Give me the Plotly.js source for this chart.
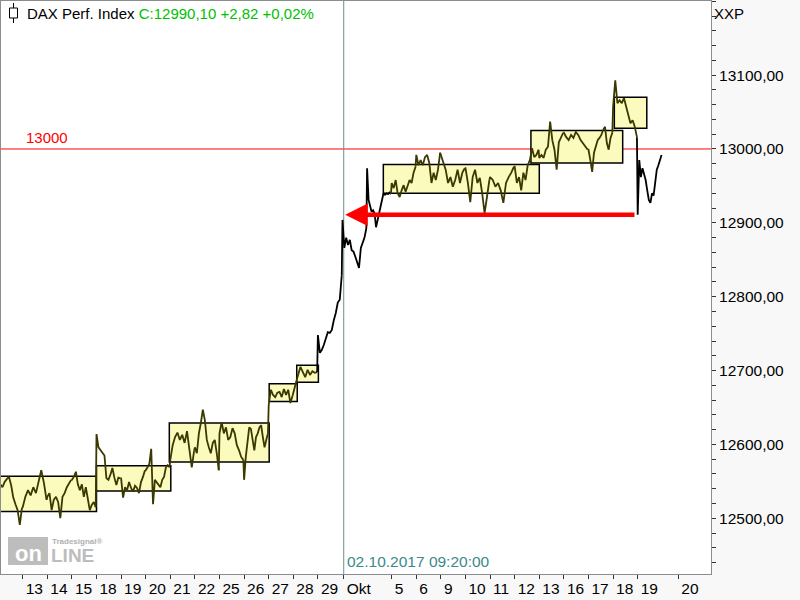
<!DOCTYPE html>
<html>
<head>
<meta charset="utf-8">
<script src="https://cdn.plot.ly/plotly-3.0.1.min.js"></script>
<style>html,body{margin:0;padding:0;background:#f8f8f8;}#chart{width:800px;height:600px;}</style>
</head>
<body>
<div id="chart"></div>
<script>
// ---- intraday price readings per trading day (DAX) ----
const sep12 = [12541, 12546, 12542, 12549, 12553, 12556, 12545, 12528, 12519, 12511, 12491, 12514];
const sep13 = [12515, 12529, 12538, 12531, 12542, 12534, 12552, 12565, 12548, 12525];
const sep14 = [12529, 12534, 12511, 12525, 12529, 12522, 12500, 12529, 12534, 12542, 12548, 12552];
const sep15 = [12552, 12556, 12563, 12546, 12538, 12546, 12529, 12542, 12525, 12511, 12518, 12522, 12515];
const sep18 = [12614, 12596, 12592, 12588, 12585, 12554, 12552, 12559, 12568, 12555, 12545, 12555, 12554];
const sep19 = [12554, 12528, 12542, 12538, 12549, 12541, 12536, 12544, 12541, 12534, 12549, 12556, 12565];
const sep20 = [12565, 12569, 12574, 12594, 12519, 12552, 12549, 12545, 12542, 12552, 12556, 12569, 12572, 12569];
const sep21 = [12579, 12599, 12610, 12616, 12606, 12613, 12602, 12618, 12596, 12569, 12592];
const sep22 = [12596, 12588, 12615, 12629, 12647, 12633, 12606, 12596, 12588, 12602, 12606, 12588, 12565];
const sep25 = [12615, 12630, 12615, 12623, 12606, 12610, 12622, 12615, 12599, 12592, 12583, 12579];
const sep26 = [12552, 12583, 12606, 12623, 12621, 12606, 12592, 12610, 12615, 12623, 12626, 12610, 12596, 12606, 12615];
const sep27 = [12653, 12674, 12667, 12664, 12670, 12671, 12664, 12675, 12667, 12674, 12656, 12666];
const sep28 = [12671, 12682, 12694, 12705, 12698, 12691, 12701, 12694, 12699, 12697, 12698];
const sep29 = [12748, 12724, 12728, 12735, 12744, 12752, 12751, 12755, 12768, 12778, 12792, 12796, 12829];
const oct02 = [12904, 12866, 12880, 12870, 12877, 12863, 12861, 12854, 12847, 12839, 12866, 12873, 12880, 12893];
const oct04 = [12974, 12931, 12921, 12915, 12917, 12913, 12894, 12904, 12915, 12924, 12933, 12940, 12938, 12940, 12939, 12941, 12939];
const oct05 = [12954, 12947, 12958, 12940, 12935, 12944, 12951, 12942, 12949, 12958, 12954, 12968, 12976];
const oct06 = [12992, 12978, 12985, 12978, 12989, 12992, 12981, 12954, 12968, 12958, 12972, 12995];
const oct09 = [12992, 12985, 12972, 12954, 12962, 12949, 12958, 12972, 12954, 12968, 12974];
const oct10 = [12974, 12954, 12928, 12962, 12972, 12954, 12961, 12940, 12913, 12935, 12958];
const oct11 = [12962, 12958, 12949, 12954, 12944, 12927, 12954, 12962, 12968, 12976];
const oct12 = [12976, 12954, 12962, 12944, 12968, 12958, 12978, 12985, 13001, 12989, 12992, 12999];
const oct13 = [12988, 12992, 12988, 12999, 13003, 13037, 13012, 12999, 12972, 13009, 13016, 13022];
const oct16 = [13022, 13016, 13012, 13019, 13015, 13023, 13019, 13012, 13008, 13003, 12999];
const oct17 = [12999, 12985, 12969, 12995, 13005, 13012, 13015, 13019, 13026, 13030, 13008, 12999, 13015, 13022];
const oct18 = [13057, 13093, 13062, 13066, 13062, 13069, 13057, 13049, 13035, 13039, 13030, 13016];
const oct19 = [12911, 12985, 12962, 12974, 12965, 12958, 12944, 12931, 12927, 12940, 12937, 12954, 12972, 12978, 12985, 12992];

const days = [sep12, sep13, sep14, sep15, sep18, sep19, sep20, sep21, sep22, sep25, sep26, sep27, sep28, sep29,
              oct02, oct04, oct05, oct06, oct09, oct10, oct11, oct12, oct13, oct16, oct17, oct18, oct19];
// days drawn outside the range boxes (black); the rest are dark olive
const outsideDays = [13, 14, 15, 26];

// x-axis tick labels (trading-day index of each label)
const tickLabels = ['13','14','15','18','19','20','21','22','25','26','27','28','29','Okt','5','6','9','10','11','12','13','16','17','18','19','20'];
const tickDayIdx = [1,2,3,4,5,6,7,8,9,10,11,12,13,14.05,16,17,18,19,20,21,22,23,24,25,26,27.65];

// consolidation boxes (day index range, price range)
const boxStart = [-0.2, 4.0, 6.96, 11.02, 12.14, 15.66, 21.66, 25.05];
const boxEnd   = [4.0, 7.02, 11.02, 12.16, 13.02, 22.0, 25.39, 26.37];
const boxLow   = [12509, 12537, 12576, 12658, 12684, 12940, 12981, 13028];
const boxHigh  = [12557, 12571, 12629, 12682, 12707, 12979, 13025, 13070];

// resistance level and arrow
const levelValue = 13000;
const arrowLevel = 12911;
const arrowFromDay = 25.93;
const arrowToDay = 14.11;
const markerDay = 14.05;
const markerText = '02.10.2017 09:20:00';

const titleName = 'DAX Perf. Index';
const titleQuote = 'C:12990,10 +2,82 +0,02%';

// ---- build traces ----
const traces = [];
days.forEach((vals, d) => {
  const xs = [], ys = [];
  if (d > 0) { const prev = days[d-1]; xs.push(d - 1 + 0.97); ys.push(prev[prev.length-1]); }
  const n = vals.length;
  vals.forEach((v, i) => { xs.push(d + 0.97 * i / (n - 1)); ys.push(v); });
  traces.push({
    x: xs, y: ys, type: 'scatter', mode: 'lines', hoverinfo: 'skip',
    line: {color: outsideDays.includes(d) ? '#000000' : '#3b3800', width: 1.8}
  });
});

// pixel helpers for decorations
const L = 1, R = 711, T = 1, B = 574;
const px = p => (p - L) / (R - L);
const py = p => 1 - (p - T) / (B - T);

const shapes = [];
boxStart.forEach((s, i) => {
  shapes.push({type: 'rect', xref: 'x', yref: 'y', x0: s, x1: boxEnd[i], y0: boxLow[i], y1: boxHigh[i],
    fillcolor: '#fbfbbe', line: {color: '#000', width: 1.5}, layer: 'below'});
});
shapes.push({type: 'line', xref: 'paper', yref: 'y', x0: 0, x1: 1, y0: levelValue, y1: levelValue,
  line: {color: '#ff0000', width: 1}, layer: 'below'});
shapes.push({type: 'line', xref: 'x', yref: 'paper', x0: markerDay, x1: markerDay, y0: 0, y1: 1,
  line: {color: '#6f8c8c', width: 1}, layer: 'below'});
// candle icon in the header
shapes.push({type: 'line', xref: 'paper', yref: 'paper', x0: px(13.5), x1: px(13.5), y0: py(3), y1: py(23), line: {color: '#000', width: 1}});
shapes.push({type: 'rect', xref: 'paper', yref: 'paper', x0: px(9.5), x1: px(17.5), y0: py(8), y1: py(18), fillcolor: '#fff', line: {color: '#000', width: 1}});
// watermark block
shapes.push({type: 'rect', xref: 'paper', yref: 'paper', x0: px(8), x1: px(48), y0: py(537), y1: py(565), fillcolor: '#bdbdbd', line: {width: 0}, layer: 'below'});

const annotations = [
  {xref: 'paper', yref: 'paper', x: px(25), y: py(13), xanchor: 'left', yanchor: 'middle', showarrow: false,
   text: titleName + ' <span style="color:#00c000">' + titleQuote + '</span>', font: {size: 15, color: '#000'}},
  {xref: 'paper', yref: 'paper', x: px(712), y: py(13), xanchor: 'left', yanchor: 'middle', showarrow: false,
   text: 'XXP', font: {size: 15, color: '#000'}},
  {xref: 'paper', yref: 'y', x: px(24), y: levelValue, xanchor: 'left', yanchor: 'bottom', yshift: 1, showarrow: false,
   text: String(levelValue), font: {size: 15, color: '#ff0000'}},
  {xref: 'x', yref: 'paper', x: markerDay, y: py(561), xanchor: 'left', yanchor: 'middle', xshift: 1, showarrow: false,
   text: markerText, font: {size: 15.5, color: '#3a8a8a'}},
  {xref: 'x', yref: 'y', axref: 'x', ayref: 'y', x: arrowToDay, y: arrowLevel, ax: arrowFromDay, ay: arrowLevel,
   text: '', showarrow: true, arrowhead: 2, arrowsize: 1, arrowwidth: 4.5, arrowcolor: '#ff0000', standoff: 0},
  // Tradesignal online watermark
  {xref: 'paper', yref: 'paper', x: px(28), y: py(553), xanchor: 'center', yanchor: 'middle', showarrow: false,
   text: '<b>on</b>', font: {size: 22, color: '#ffffff'}},
  {xref: 'paper', yref: 'paper', x: px(49), y: py(555), xanchor: 'left', yanchor: 'middle', showarrow: false,
   text: '<b>LINE</b>', font: {size: 19, color: '#bdbdbd'}},
  {xref: 'paper', yref: 'paper', x: px(50), y: py(541), xanchor: 'left', yanchor: 'middle', showarrow: false,
   text: '<b>Tradesignal®</b>', font: {size: 8, color: '#b0b0b0'}}
];

const layout = {
  width: 800, height: 600,
  margin: {l: L, r: 800 - R, t: T, b: 600 - B, pad: 0},
  paper_bgcolor: '#f8f8f8', plot_bgcolor: '#ffffff',
  separators: ',.',
  showlegend: false,
  font: {family: 'Liberation Sans, Arial, sans-serif', size: 15, color: '#000'},
  xaxis: {
    range: [0.118, 28.98], showgrid: false, zeroline: false,
    showline: true, mirror: true, linecolor: '#8c8c8c', linewidth: 1,
    tickmode: 'array', tickvals: tickDayIdx, ticktext: tickLabels, tickangle: 0,
    ticks: 'outside', ticklen: 4, tickcolor: '#333', tickwidth: 1,
    ticklabelposition: 'outside right', ticklabelshift: 2, automargin: false,
    tickfont: {size: 15.5, color: '#000'}
  },
  yaxis: {
    side: 'right', range: [12424.5, 13200.4], showgrid: false, zeroline: false,
    showline: true, mirror: true, linecolor: '#8c8c8c', linewidth: 1,
    tick0: 12500, dtick: 100, tickformat: '.2f', automargin: false,
    ticks: 'outside', ticklen: 4, tickcolor: '#333',
    minor: {tick0: 12500, dtick: 20, ticks: 'outside', ticklen: 4, tickcolor: '#333'},
    tickfont: {size: 15.5, color: '#000'}
  },
  shapes: shapes,
  annotations: annotations
};

Plotly.newPlot('chart', traces, layout, {staticPlot: true, displayModeBar: false});
</script>
</body>
</html>
